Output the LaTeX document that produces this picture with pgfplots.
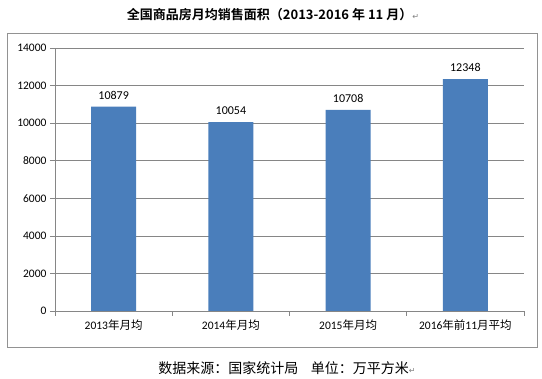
\documentclass[border=0pt]{standalone}
\usepackage{fontspec}
\setmainfont{Carlito}
\newfontfamily\cjk{Noto Sans CJK SC}
\newfontfamily\cjkb{Noto Sans CJK SC Bold}
\newfontfamily\sym{DejaVu Sans}
\usepackage{pgfplots}
\pgfplotsset{compat=1.18}
\usetikzlibrary{calc}
\definecolor{barblue}{HTML}{4A7EBB}
\definecolor{gridgray}{HTML}{868686}
\begin{document}
\begin{tikzpicture}
\begin{axis}[
  scale only axis, width=469pt, height=263pt,
  xmin=-0.5, xmax=3.5, ymin=0, ymax=14000,
  enlargelimits=false,
  axis x line*=bottom, axis y line*=left,
  axis line style={gridgray, line width=0.7pt},
  ymajorgrids, grid style={gridgray, line width=0.6pt},
  ytick={0,2000,...,14000},
  scaled y ticks=false,
  xtick={0,1,2,3},
  xticklabels={2013{\cjk 年月均},2014{\cjk 年月均},2015{\cjk 年月均},2016{\cjk 年前}11{\cjk 月平均}},
  minor xtick={-0.5,0.5,1.5,2.5,3.5},
  major x tick style={draw=none},
  minor x tick style={gridgray, line width=0.6pt},
  y tick style={gridgray, line width=0.6pt},
  major tick length=5pt, minor tick length=5pt,
  tick align=outside,
  ticklabel style={font=\fontsize{11.5}{13}\selectfont},
  /pgf/number format/assume math mode=true,
  /pgf/number format/1000 sep={},
  nodes near coords,
  nodes near coords style={font=\fontsize{12}{13}\selectfont, text=black, yshift=4pt},
  clip=false,
]
\addplot[ybar, bar width=45pt, fill=barblue, draw=none] coordinates {(0,10879) (1,10054) (2,10708) (3,12348)};
\coordinate (O) at (rel axis cs:0,0);
\end{axis}
\begin{scope}[shift={($(O)+(-55pt,-68pt)$)}, x=1pt, y=1pt]
\path[use as bounding box] (0,0) rectangle (542,379);
\draw[gridgray!90, line width=0.8pt] (7,32) rectangle (537,346);
\node[font=\cjkb\fontsize{13}{15}\selectfont] at (273,364) {全国商品房月均销售面积（2013-2016 年 11 月）{\sym\color{gray}\fontsize{8}{9}\selectfont ↵}};
\node[font=\cjk\fontsize{14}{16}\selectfont] at (287,11) {数据来源：国家统计局\hspace{0.9em}单位：万平方米{\sym\color{gray}\fontsize{8}{9}\selectfont ↵}};
\end{scope}
\end{tikzpicture}
\end{document}
